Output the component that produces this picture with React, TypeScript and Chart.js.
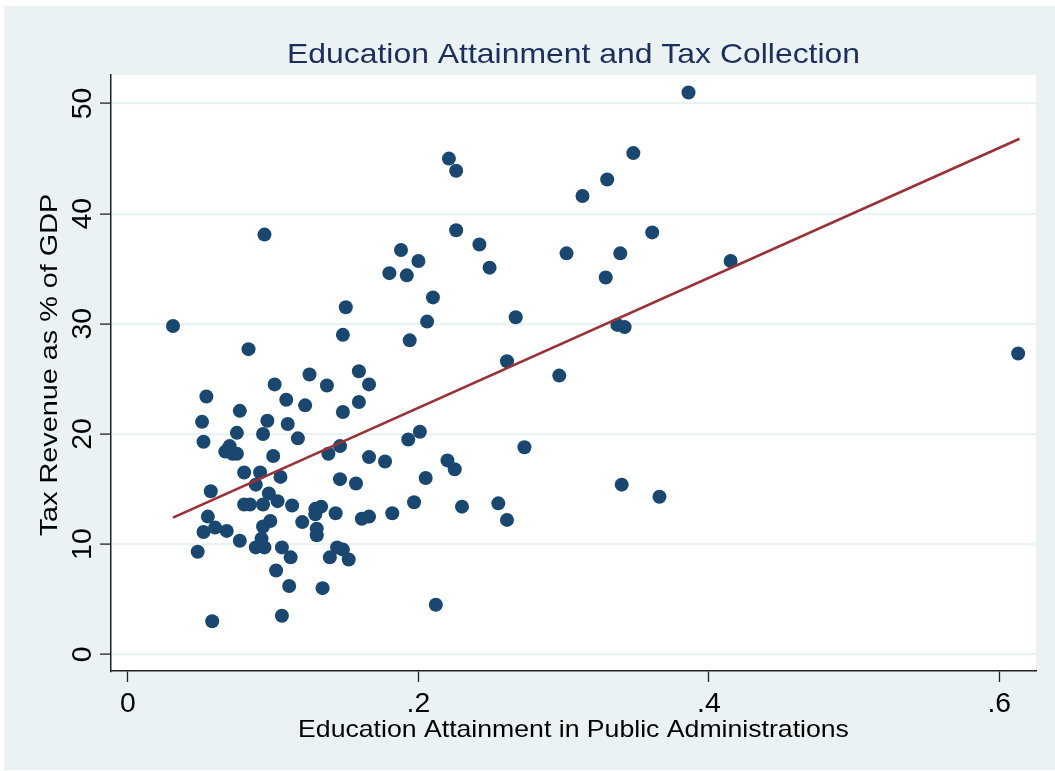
import React, { useEffect, useRef } from 'react';
import { Chart, registerables } from 'chart.js';

Chart.register(...registerables);

const chartTitle = 'Education Attainment and Tax Collection';
const xAxisTitle = 'Education Attainment in Public Administrations';
const yAxisTitle = 'Tax Revenue as % of GDP';

const xTickValues = [0, 0.2, 0.4, 0.6];
const xTickLabels = ['0', '.2', '.4', '.6'];
const yTickValues = [0, 10, 20, 30, 40, 50];
const yTickLabels = ['0', '10', '20', '30', '40', '50'];

// Education attainment (share) per country
const educationAttainment = [
  0.031, 0.094, 0.083, 0.150, 0.148, 0.159, 0.125, 0.101, 0.166, 0.137,
  0.054, 0.109, 0.159, 0.122, 0.077, 0.148, 0.051, 0.096, 0.110, 0.075,
  0.093, 0.117, 0.052, 0.070, 0.067, 0.072, 0.075, 0.100, 0.146, 0.138,
  0.166, 0.177, 0.080, 0.091, 0.105, 0.146, 0.157, 0.057, 0.088, 0.097,
  0.080, 0.084, 0.093, 0.103, 0.113, 0.055, 0.060, 0.052, 0.068, 0.093,
  0.098, 0.120, 0.129, 0.133, 0.129, 0.130, 0.130, 0.143, 0.161, 0.166,
  0.182, 0.077, 0.092, 0.088, 0.094, 0.106, 0.112, 0.048, 0.144, 0.148,
  0.139, 0.152, 0.102, 0.111, 0.134, 0.058, 0.106, 0.212, 0.221, 0.226,
  0.226, 0.242, 0.188, 0.200, 0.180, 0.192, 0.249, 0.210, 0.206, 0.194,
  0.267, 0.261, 0.193, 0.201, 0.273, 0.220, 0.225, 0.205, 0.197, 0.230,
  0.255, 0.261, 0.386, 0.348, 0.330, 0.313, 0.361, 0.302, 0.339, 0.329,
  0.415, 0.337, 0.342, 0.297, 0.340, 0.366, 0.613,
];

// Tax revenue as % of GDP per country
const taxRevenue = [
  29.8, 38.1, 27.7, 31.5, 29.0, 25.7, 25.4, 24.5, 24.5, 24.4,
  23.4, 23.1, 22.9, 22.6, 22.1, 22.0, 21.1, 21.2, 20.9, 20.1,
  20.0, 19.6, 19.3, 18.9, 18.4, 18.2, 18.2, 18.0, 18.9, 18.2,
  17.9, 17.5, 16.5, 16.5, 16.1, 15.9, 15.5, 14.8, 15.4, 14.6,
  13.6, 13.6, 13.6, 13.9, 13.5, 12.5, 11.5, 11.1, 11.2, 11.6,
  12.1, 12.0, 13.2, 13.4, 12.7, 11.4, 10.8, 12.8, 12.3, 12.5,
  12.8, 10.3, 10.5, 9.7, 9.7, 9.7, 8.8, 9.3, 9.7, 9.5,
  8.8, 8.6, 7.6, 6.2, 6.0, 3.0, 3.5, 4.5, 45.0, 43.9,
  38.5, 37.2, 36.7, 35.7, 34.6, 34.4, 35.1, 32.4, 30.2, 28.5,
  30.6, 26.6, 19.5, 20.2, 18.8, 17.6, 16.8, 16.0, 13.8, 13.4,
  13.7, 12.2, 51.0, 45.5, 43.1, 41.6, 38.3, 36.4, 36.4, 34.2,
  35.7, 29.9, 29.7, 25.3, 15.4, 14.3, 27.3,
];

// Linear fit line end points
const fitX = [0.031, 0.614];
const fitY = [12.4, 46.8];

const FONT = '"Liberation Sans", Arial, Helvetica, sans-serif';

function drawText(
  ctx: CanvasRenderingContext2D,
  text: string,
  x: number,
  y: number,
  size: number,
  color: string,
  stretch: number,
  rotate: boolean
) {
  ctx.save();
  ctx.translate(x, y);
  if (rotate) ctx.rotate(-Math.PI / 2);
  ctx.scale(stretch, 1);
  ctx.font = `${size}px ${FONT}`;
  ctx.fillStyle = color;
  ctx.textAlign = 'center';
  ctx.textBaseline = 'alphabetic';
  ctx.fillText(text, 0, 0);
  ctx.restore();
}

const framePlugin = {
  id: 'stataFrame',
  beforeDraw(chart: any) {
    const { ctx, chartArea: a, width, height } = chart;
    ctx.save();
    ctx.fillStyle = '#ffffff';
    ctx.fillRect(0, 0, width, height);
    ctx.fillStyle = '#EAF2F3';
    ctx.fillRect(4, 6, width - 4, 764);
    ctx.fillStyle = '#ffffff';
    ctx.fillRect(a.left, a.top, a.right - a.left, a.bottom - a.top);
    ctx.restore();
  },
  afterDraw(chart: any) {
    const { ctx, chartArea: a } = chart;
    const xs = chart.scales.x;
    const ys = chart.scales.y;
    const cx = (a.left + a.right) / 2;
    const cy = (a.top + a.bottom) / 2;
    drawText(ctx, chartTitle, cx, 63, 28, '#1a2f5c', 1.14, false);
    drawText(ctx, xAxisTitle, cx, 737, 24, '#000000', 1.11, false);
    drawText(ctx, yAxisTitle, 57, cy - 8, 24, '#000000', 1.2, true);
    xTickValues.forEach((v, i) => {
      drawText(ctx, xTickLabels[i], xs.getPixelForValue(v), 712, 27, '#000000', 1.05, false);
    });
    yTickValues.forEach((v, i) => {
      drawText(ctx, yTickLabels[i], 91, ys.getPixelForValue(v), 27, '#000000', 1.05, true);
    });
  },
};

export default function App() {
  const canvasRef = useRef<HTMLCanvasElement | null>(null);

  useEffect(() => {
    if (!canvasRef.current) return;
    const points = educationAttainment.map((x, i) => ({ x, y: taxRevenue[i] }));
    const fit = fitX.map((x, i) => ({ x, y: fitY[i] }));
    const chart = new Chart(canvasRef.current, {
      type: 'scatter',
      data: {
        datasets: [
          {
            label: 'Fitted values',
            data: fit,
            showLine: true,
            borderColor: '#9A3138',
            backgroundColor: '#9A3138',
            borderWidth: 2.6,
            pointRadius: 0,
            fill: false,
          } as any,
          {
            label: 'Tax revenue',
            data: points,
            backgroundColor: '#1A476F',
            borderColor: '#1A476F',
            borderWidth: 0,
            pointRadius: 7,
          },
        ],
      },
      options: {
        responsive: false,
        animation: false,
        devicePixelRatio: 1,
        layout: { padding: { left: 0, top: 75, right: 19, bottom: 0 } },
        plugins: {
          legend: { display: false },
          title: { display: false },
          tooltip: { enabled: false },
        },
        scales: {
          x: {
            type: 'linear',
            min: -0.0117,
            max: 0.6253,
            afterBuildTicks: (s: any) => {
              s.ticks = xTickValues.map((v) => ({ value: v }));
            },
            afterFit: (s: any) => {
              s.height = 100;
            },
            ticks: { display: false },
            grid: {
              drawOnChartArea: false,
              drawTicks: true,
              tickLength: 11,
              tickColor: '#222222',
              tickWidth: 1.3,
            },
            border: { color: '#222222', width: 1.5 },
          },
          y: {
            type: 'linear',
            min: -1.52,
            max: 52.59,
            afterBuildTicks: (s: any) => {
              s.ticks = yTickValues.map((v) => ({ value: v }));
            },
            afterFit: (s: any) => {
              s.width = 111;
            },
            ticks: { display: false },
            grid: {
              color: '#EAF2F3',
              lineWidth: 2.2,
              drawTicks: true,
              tickLength: 11,
              tickColor: '#222222',
              tickWidth: 1.3,
            },
            border: { color: '#222222', width: 1.5 },
          },
        },
      },
      plugins: [framePlugin],
    });
    return () => chart.destroy();
  }, []);

  return (
    <div style={{ position: 'fixed', left: 0, top: 0, width: 1055, height: 771 }}>
      <canvas ref={canvasRef} width={1055} height={771} style={{ display: 'block' }} />
    </div>
  );
}
